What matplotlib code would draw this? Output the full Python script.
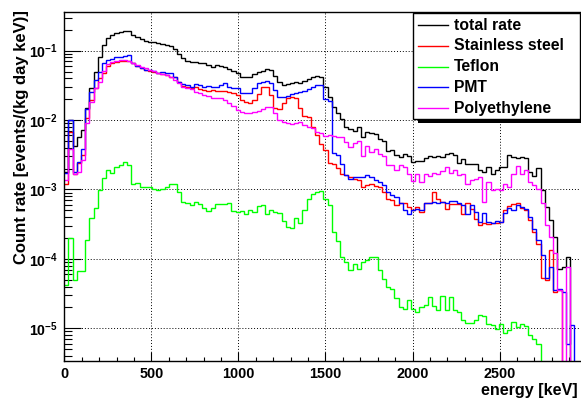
import numpy as np
import matplotlib
matplotlib.use("Agg")
import matplotlib.pyplot as plt
from matplotlib.patches import Rectangle
from matplotlib.lines import Line2D
from matplotlib.ticker import MultipleLocator, LogLocator, FuncFormatter, NullFormatter

plt.rcParams['font.family'] = 'Liberation Sans'
plt.rcParams['font.weight'] = 'bold'
plt.rcParams['mathtext.fontset'] = 'custom'
plt.rcParams['mathtext.bf'] = 'Liberation Sans:bold'
plt.rcParams['mathtext.rm'] = 'Liberation Sans:bold'

# histogram bins of 24 keV starting at 0 keV
bin_width = 24

total_rate = [
    1.80e-3, 1.00e-2, 4.27e-3, 5.62e-3, 7.18e-3, 1.48e-2, 2.88e-2, 5.00e-2, 8.18e-2, 0.121,
    0.151, 0.168, 0.178, 0.184, 0.192, 0.191, 0.168, 0.155, 0.146, 0.138,
    0.135, 0.132, 0.128, 0.125, 0.121, 0.117, 0.105, 8.95e-2, 7.76e-2, 7.18e-2,
    6.93e-2, 6.87e-2, 6.71e-2, 6.61e-2, 6.21e-2, 5.89e-2, 6.17e-2, 6.08e-2, 5.89e-2, 5.45e-2,
    5.13e-2, 4.82e-2, 4.22e-2, 4.12e-2, 4.22e-2, 4.60e-2, 4.98e-2, 5.13e-2, 5.37e-2, 5.25e-2,
    4.32e-2, 3.57e-2, 3.20e-2, 3.31e-2, 3.47e-2, 3.57e-2, 3.47e-2, 3.69e-2, 3.86e-2, 4.22e-2,
    4.32e-2, 4.22e-2, 3.03e-2, 2.12e-2, 1.52e-2, 1.25e-2, 1.02e-2, 8.02e-3, 7.41e-3, 7.02e-3,
    7.83e-3, 5.62e-3, 6.79e-3, 6.46e-3, 6.31e-3, 5.32e-3, 4.98e-3, 3.61e-3, 3.69e-3, 3.13e-3,
    2.95e-3, 3.20e-3, 3.02e-3, 2.51e-3, 2.59e-3, 2.59e-3, 2.80e-3, 3.06e-3, 2.95e-3, 3.06e-3,
    2.95e-3, 3.24e-3, 3.31e-3, 3.13e-3, 2.43e-3, 2.75e-3, 2.32e-3, 2.32e-3, 2.32e-3, 1.91e-3,
    1.80e-3, 2.12e-3, 1.70e-3, 1.91e-3, 2.12e-3, 2.12e-3, 3.13e-3, 2.95e-3, 2.80e-3, 2.95e-3,
    2.88e-3, 1.80e-3, 1.55e-3, 2.01e-3, 9.77e-4, 5.62e-4, 3.63e-4, 2.09e-4, 7.24e-5, 7.59e-5,
    1.07e-4, 0, 0,
]

stainless_steel = [
    1.22e-3, 6.79e-3, 1.70e-3, 2.37e-3, 3.13e-3, 1.06e-2, 1.95e-2, 2.86e-2, 3.98e-2, 4.79e-2,
    6.01e-2, 6.56e-2, 6.93e-2, 7.18e-2, 7.18e-2, 7.10e-2, 6.56e-2, 6.01e-2, 5.56e-2, 5.26e-2,
    5.15e-2, 4.98e-2, 4.71e-2, 4.60e-2, 4.46e-2, 4.22e-2, 4.12e-2, 3.57e-2, 3.09e-2, 2.96e-2,
    2.86e-2, 2.96e-2, 2.77e-2, 2.71e-2, 2.65e-2, 2.71e-2, 2.65e-2, 2.65e-2, 2.62e-2, 2.56e-2,
    2.43e-2, 2.29e-2, 1.95e-2, 1.84e-2, 1.74e-2, 1.95e-2, 2.37e-2, 2.96e-2, 2.96e-2, 2.29e-2,
    1.47e-2, 1.43e-2, 1.74e-2, 2.05e-2, 2.12e-2, 2.05e-2, 1.47e-2, 1.14e-2, 1.09e-2, 8.02e-3,
    6.08e-3, 4.60e-3, 3.69e-3, 2.43e-3, 2.32e-3, 2.01e-3, 1.70e-3, 1.61e-3, 1.49e-3, 1.44e-3,
    1.36e-3, 1.10e-3, 1.16e-3, 1.22e-3, 1.12e-3, 1.07e-3, 9.25e-4, 7.41e-4, 7.02e-4, 5.94e-4,
    6.31e-4, 6.46e-4, 5.62e-4, 5.15e-4, 5.62e-4, 4.76e-4, 6.46e-4, 6.46e-4, 9.25e-4, 7.41e-4,
    6.64e-4, 5.32e-4, 6.08e-4, 6.08e-4, 6.17e-4, 4.41e-4, 6.31e-4, 5.32e-4, 3.82e-4, 3.06e-4,
    3.24e-4, 3.16e-4, 3.24e-4, 3.24e-4, 3.42e-4, 5.04e-4, 5.75e-4, 6.17e-4, 6.31e-4, 5.50e-4,
    5.04e-4, 3.61e-4, 2.45e-4, 1.66e-4, 5.25e-5, 5.01e-5, 1.33e-4, 3.34e-5, 3.55e-5, 0,
    0, 0, 0,
]

teflon = [
    4.17e-5, 2.01e-4, 5.04e-5, 6.71e-5, 6.71e-5, 1.86e-4, 3.94e-4, 5.50e-4, 9.77e-4, 1.45e-3,
    1.91e-3, 1.74e-3, 2.12e-3, 2.24e-3, 2.45e-3, 2.24e-3, 1.22e-3, 1.25e-3, 1.10e-3, 1.10e-3,
    1.10e-3, 1.01e-3, 9.77e-4, 1.03e-3, 1.07e-3, 1.22e-3, 1.19e-3, 9.25e-4, 6.64e-4, 6.31e-4,
    5.94e-4, 6.64e-4, 6.14e-4, 5.50e-4, 4.88e-4, 5.50e-4, 6.14e-4, 6.14e-4, 6.14e-4, 6.31e-4,
    4.92e-4, 4.76e-4, 4.92e-4, 4.41e-4, 5.04e-4, 4.76e-4, 5.75e-4, 5.94e-4, 4.51e-4, 5.04e-4,
    4.76e-4, 4.60e-4, 3.53e-4, 2.90e-4, 2.83e-4, 3.94e-4, 3.24e-4, 5.15e-4, 7.18e-4, 8.75e-4,
    9.25e-4, 9.55e-4, 7.41e-4, 5.94e-4, 2.45e-4, 1.82e-4, 1.07e-4, 9.06e-5, 6.87e-5, 8.57e-5,
    7.24e-5, 9.06e-5, 9.55e-5, 1.05e-4, 1.07e-4, 7.01e-5, 5.20e-5, 3.94e-5, 3.72e-5, 2.77e-5,
    2.03e-5, 1.92e-5, 2.54e-5, 1.92e-5, 1.72e-5, 2.03e-5, 2.15e-5, 2.83e-5, 2.07e-5, 1.82e-5,
    2.90e-5, 1.82e-5, 2.83e-5, 1.82e-5, 1.72e-5, 1.30e-5, 1.19e-5, 1.19e-5, 1.33e-5, 1.54e-5,
    1.49e-5, 1.17e-5, 1.10e-5, 9.90e-6, 1.17e-5, 8.57e-6, 9.33e-6, 1.23e-5, 1.05e-5, 1.15e-5,
    1.07e-5, 7.94e-6, 7.08e-6, 6.03e-6, 0, 0, 0, 0, 0, 0,
    0, 0, 0,
]

pmt = [
    1.74e-3, 1.00e-2, 1.80e-3, 2.51e-3, 3.89e-3, 1.43e-2, 2.57e-2, 3.78e-2, 5.00e-2, 6.61e-2,
    7.33e-2, 7.67e-2, 8.02e-2, 8.18e-2, 8.47e-2, 8.66e-2, 6.56e-2, 6.01e-2, 5.56e-2, 5.26e-2,
    5.26e-2, 5.09e-2, 4.82e-2, 4.98e-2, 4.82e-2, 4.71e-2, 4.22e-2, 3.57e-2, 3.27e-2, 3.20e-2,
    3.02e-2, 3.31e-2, 3.20e-2, 2.96e-2, 3.09e-2, 3.02e-2, 2.96e-2, 3.20e-2, 3.38e-2, 2.96e-2,
    2.92e-2, 2.86e-2, 2.43e-2, 2.43e-2, 2.43e-2, 2.86e-2, 3.38e-2, 3.57e-2, 3.69e-2, 3.38e-2,
    2.71e-2, 2.12e-2, 2.17e-2, 2.24e-2, 2.34e-2, 2.43e-2, 2.54e-2, 2.65e-2, 2.77e-2, 2.96e-2,
    3.16e-2, 3.20e-2, 1.99e-2, 1.90e-2, 3.31e-3, 3.13e-3, 2.32e-3, 1.61e-3, 1.44e-3, 1.49e-3,
    1.52e-3, 1.52e-3, 1.61e-3, 1.52e-3, 1.39e-3, 1.29e-3, 1.16e-3, 9.25e-4, 8.28e-4, 7.67e-4,
    6.46e-4, 5.15e-4, 4.51e-4, 5.15e-4, 5.32e-4, 5.15e-4, 6.31e-4, 6.46e-4, 6.64e-4, 6.46e-4,
    6.64e-4, 6.46e-4, 6.87e-4, 6.87e-4, 6.46e-4, 5.94e-4, 4.51e-4, 5.94e-4, 4.76e-4, 3.42e-4,
    4.66e-4, 3.42e-4, 3.31e-4, 3.53e-4, 3.42e-4, 4.61e-4, 5.50e-4, 5.15e-4, 5.94e-4, 5.62e-4,
    5.32e-4, 4.04e-4, 2.74e-4, 1.86e-4, 1.13e-4, 5.25e-5, 7.67e-5, 3.55e-5, 3.72e-5, 3.34e-5,
    6.00e-6, 1.12e-5, 0,
]

polyethylene = [
    1.36e-3, 3.89e-3, 1.66e-3, 1.80e-3, 2.65e-3, 8.95e-3, 1.84e-2, 2.86e-2, 3.55e-2, 5.13e-2,
    6.43e-2, 6.87e-2, 7.10e-2, 7.33e-2, 7.24e-2, 7.01e-2, 6.71e-2, 6.21e-2, 5.87e-2, 5.56e-2,
    5.26e-2, 5.15e-2, 4.82e-2, 4.60e-2, 4.46e-2, 4.22e-2, 3.78e-2, 3.45e-2, 3.03e-2, 2.86e-2,
    2.77e-2, 2.56e-2, 2.43e-2, 2.29e-2, 2.22e-2, 2.10e-2, 2.05e-2, 2.05e-2, 1.94e-2, 1.78e-2,
    1.59e-2, 1.39e-2, 1.32e-2, 1.25e-2, 1.25e-2, 1.32e-2, 1.36e-2, 1.43e-2, 1.56e-2, 1.56e-2,
    1.25e-2, 1.00e-2, 9.46e-3, 9.16e-3, 8.75e-3, 9.16e-3, 9.46e-3, 8.47e-3, 8.02e-3, 7.59e-3,
    6.79e-3, 6.43e-3, 5.87e-3, 6.08e-3, 5.87e-3, 5.62e-3, 5.75e-3, 4.86e-3, 4.04e-3, 4.71e-3,
    5.04e-3, 3.03e-3, 4.22e-3, 3.49e-3, 3.78e-3, 3.24e-3, 3.03e-3, 2.24e-3, 2.24e-3, 1.91e-3,
    2.24e-3, 2.12e-3, 1.70e-3, 1.33e-3, 1.70e-3, 1.29e-3, 1.66e-3, 1.56e-3, 1.74e-3, 1.66e-3,
    1.86e-3, 2.12e-3, 1.74e-3, 1.91e-3, 1.61e-3, 1.70e-3, 1.22e-3, 1.36e-3, 1.44e-3, 1.52e-3,
    6.64e-4, 1.29e-3, 9.77e-4, 1.03e-3, 9.77e-4, 1.19e-3, 1.10e-3, 1.66e-3, 2.17e-3, 1.70e-3,
    1.91e-3, 1.29e-3, 1.15e-3, 1.03e-3, 6.31e-4, 3.06e-4, 2.09e-4, 1.20e-4, 3.55e-5, 0,
    7.67e-5, 0, 0,
]

series = [
    ("total rate", total_rate, "#000000"),
    ("Stainless steel", stainless_steel, "#ff0000"),
    ("Teflon", teflon, "#00ff00"),
    ("PMT", pmt, "#0000ff"),
    ("Polyethylene", polyethylene, "#ff00ff"),
]

edges = np.arange(len(total_rate) + 1) * bin_width

W, H = 581, 399
fig = plt.figure(figsize=(W / 100, H / 100), dpi=100)
ax = fig.add_axes([64.3 / W, 1 - 361 / H, (580 - 64.3) / W, (361 - 12) / H])

for label, vals, color in series:
    v = np.asarray(vals, dtype=float)
    v[v <= 0] = 1e-9  # empty bins drop to the bottom of the log axis
    ax.stairs(v, edges, baseline=None, color=color, lw=1.0)

ax.set_yscale('log')
ax.set_xlim(0, 2962)
ax.set_ylim(3.38e-6, 0.361)

ax.xaxis.set_major_locator(MultipleLocator(500))
ax.xaxis.set_minor_locator(MultipleLocator(100))
ax.yaxis.set_major_locator(LogLocator(base=10, numticks=20))
ax.yaxis.set_minor_locator(LogLocator(base=10, subs=np.arange(2, 10), numticks=20))
ax.yaxis.set_minor_formatter(NullFormatter())
ax.yaxis.set_major_formatter(FuncFormatter(lambda v, p: r'$\mathbf{10^{%d}}$' % round(np.log10(v))))

ax.tick_params(which='both', direction='in', top=False, right=False, width=0.8)
ax.tick_params(axis='x', which='major', length=6.5, pad=4, labelsize=10.4)
ax.tick_params(axis='x', which='minor', length=3.2)
ax.tick_params(axis='y', which='major', length=12, pad=4.5, labelsize=10.2)
ax.tick_params(axis='y', which='minor', length=6)

ax.grid(True, which='major', color='black', linestyle=(0, (1, 2)), lw=0.7)
ax.set_axisbelow(True)
ax.spines['right'].set_visible(False)
for s in ['left', 'bottom', 'top']:
    ax.spines[s].set_linewidth(1.0)

fig.text(22 / W, 1 - 10 / H, 'Count rate [events/(kg day keV)]', rotation=90,
         ha='center', va='top', fontsize=12.0, fontweight='bold')
fig.text(578 / W, 1 - 395 / H, 'energy [keV]', ha='right', va='baseline',
         fontsize=11.6, fontweight='bold')

# legend box with shadow, ROOT style
lx0, ly0, lx1, ly1 = 412.7, 12.7, 580.0, 119.3
shadow = Rectangle(((lx0 + 5) / W, 1 - (ly1 + 4) / H), (lx1 - lx0) / W, (ly1 - ly0) / H,
                   transform=fig.transFigure, facecolor='black', edgecolor='none', zorder=2)
box = Rectangle((lx0 / W, 1 - ly1 / H), (lx1 - lx0) / W, (ly1 - ly0) / H,
                transform=fig.transFigure, facecolor='white', edgecolor='black', lw=1.0, zorder=3)
fig.add_artist(shadow)
fig.add_artist(box)
for i, (label, vals, color) in enumerate(series):
    yy = 1 - (25 + 20.8 * i) / H
    fig.add_artist(Line2D([418 / W, 448 / W], [yy, yy], transform=fig.transFigure,
                          color=color, lw=1.0, zorder=4))
    fig.text(454 / W, yy, label, va='center', ha='left', fontsize=11.3,
             fontweight='bold', zorder=4)

fig.savefig('out.png', dpi=100)
